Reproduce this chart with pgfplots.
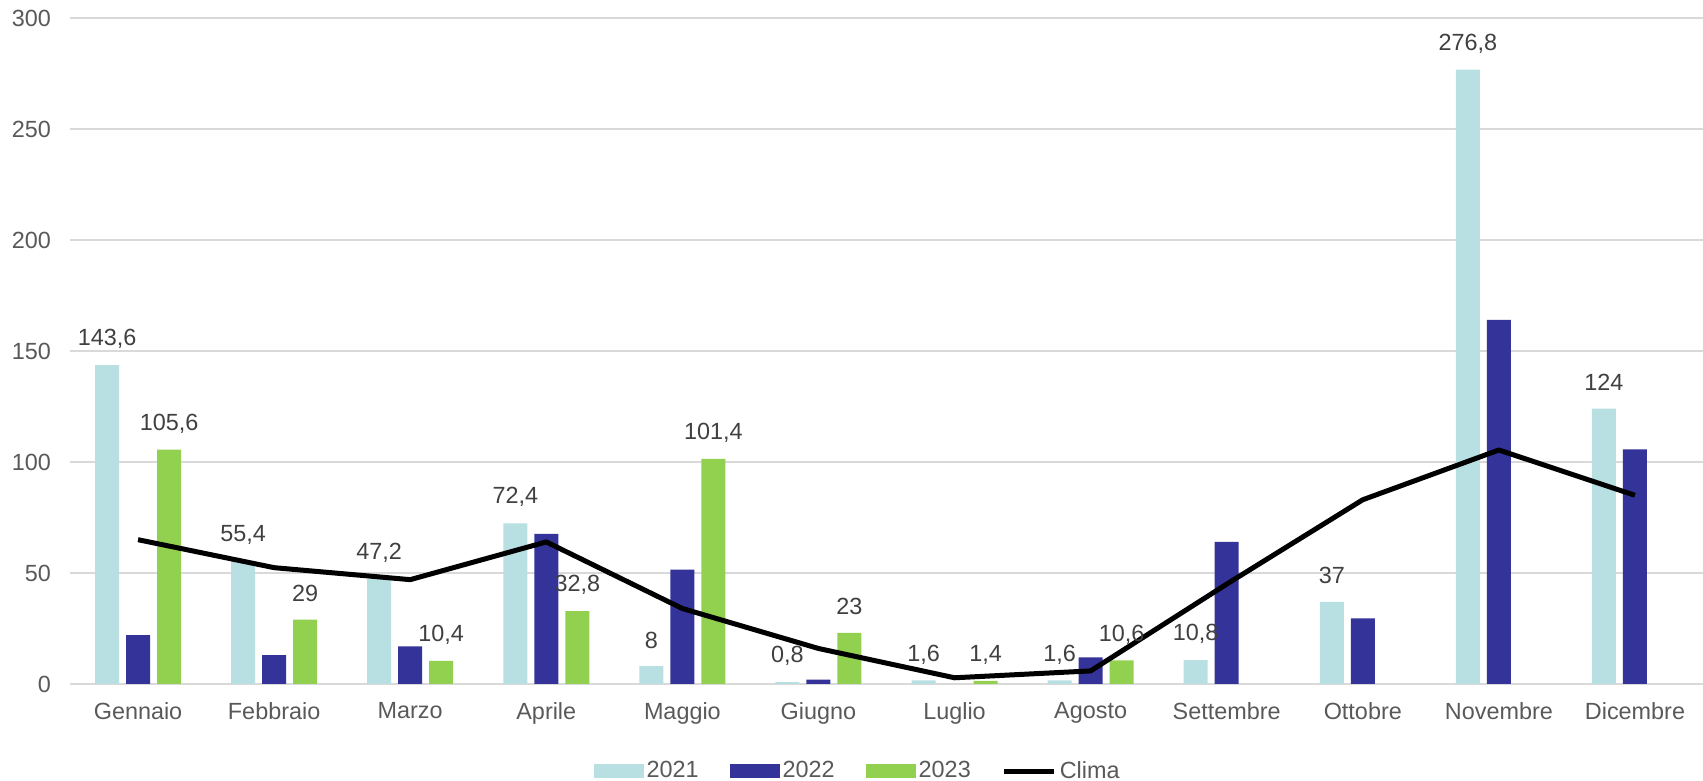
\documentclass[border=0pt]{standalone}
\usepackage{pgfplots}
\pgfplotsset{compat=1.18}
\usepackage{fontspec}
\setmainfont{Liberation Sans}
\definecolor{c21}{HTML}{B8E0E3}
\definecolor{c22}{HTML}{333399}
\definecolor{c23}{HTML}{92D050}
\definecolor{gridc}{HTML}{D9D9D9}
\definecolor{tickc}{HTML}{595959}
\definecolor{labc}{HTML}{404040}
\newcommand{\cfont}{\fontsize{11.7}{14}\selectfont}
\begin{document}
\begin{tikzpicture}
\begin{axis}[
  scale only axis, width=816.5pt, height=333pt,
  xmin=-0.5, xmax=11.5, ymin=0, ymax=300,
  ytick={0,50,100,150,200,250,300},
  xtick={0,1,2,3,4,5,6,7,8,9,10,11},
  xticklabels={Gennaio,Febbraio,Marzo,Aprile,Maggio,Giugno,Luglio,Agosto,Settembre,Ottobre,Novembre,Dicembre},
  axis line style={draw=none},
  major tick length=0pt,
  ymajorgrids, grid style={draw=gridc, line width=1pt},
  ticklabel style={font=\cfont, text=tickc},
  xticklabel style={yshift=-5.5pt},
  yticklabel style={xshift=-6pt},
  /pgf/number format/assume math mode=true,
  ybar, bar width=12pt,
  every node near coord/.append style={font=\cfont, text=labc, anchor=center, yshift=13pt},
  legend columns=4,
  legend style={draw=none, fill=none, font=\cfont, text=tickc,
    at={(0.4826,-0.1310)}, anchor=center,
    nodes={inner sep=1.5pt},
    /tikz/every even column/.append style={column sep=14pt}},
  clip=false,
]
\addplot[fill=c21, draw=none, bar shift=-15.5pt,
  legend image code/.code={\fill[c21] (0pt,-3.5pt) rectangle (25pt,3.5pt);},
  nodes near coords={\pgfmathprintnumber[assume math mode=true,use comma,fixed,precision=1]{\pgfplotspointmeta}}]
  coordinates {(0,143.6) (1,55.4) (2,47.2) (3,72.4) (4,8) (5,0.8) (6,1.6) (7,1.6) (8,10.8) (9,37) (10,276.8) (11,124)};
\addplot[fill=c22, draw=none, bar shift=0pt,
  legend image code/.code={\fill[c22] (0pt,-3.5pt) rectangle (25pt,3.5pt);}]
  coordinates {(0,22) (1,13) (2,17) (3,67.6) (4,51.5) (5,2) (7,12) (8,64) (9,29.6) (10,164) (11,105.7)};
\addplot[fill=c23, draw=none, bar shift=15.5pt,
  legend image code/.code={\fill[c23] (0pt,-3.5pt) rectangle (25pt,3.5pt);},
  nodes near coords={\pgfmathprintnumber[assume math mode=true,use comma,fixed,precision=1]{\pgfplotspointmeta}}]
  coordinates {(0,105.6) (1,29) (2,10.4) (3,32.8) (4,101.4) (5,23) (6,1.4) (7,10.6)};
\addplot[sharp plot, black, line width=2.5pt, line join=round, mark=none,
  legend image code/.code={\draw[black, line width=2.5pt] (0pt,0pt) -- (25pt,0pt);}]
  coordinates {(0,65) (1,52.4) (2,47) (3,64) (4,34) (5,16) (6,2.8) (7,5.9) (8,45) (9,83) (10,105.4) (11,85)};
\legend{2021,2022,2023,Clima}
\end{axis}
\pgfresetboundingbox
\path ([shift={(-35pt,-48.5pt)}]current axis.south west) rectangle ([shift={(0pt,9pt)}]current axis.north east);
\end{tikzpicture}
\end{document}
